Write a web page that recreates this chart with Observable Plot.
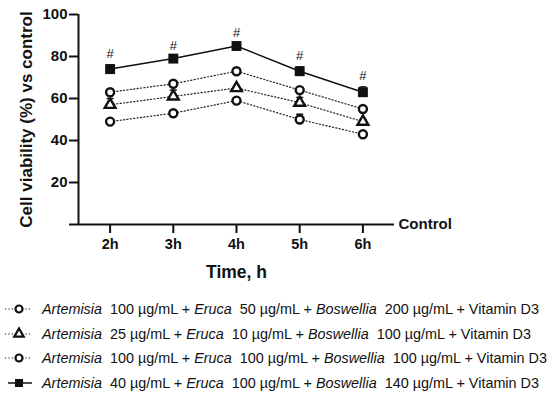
<!DOCTYPE html>
<html>
<head>
<meta charset="utf-8">
<script src="https://cdn.jsdelivr.net/npm/d3@7"></script>
<script src="https://cdn.jsdelivr.net/npm/@observablehq/plot@0.6"></script>
<style>
  body { margin: 0; background: #fff; font-family: "Liberation Sans", Arial, sans-serif; }
  #chart svg { display: block; overflow: visible; }
  #chart g[aria-label="x-axis label"] text { font-size: 17.5px; font-weight: bold; }
  #chart g[aria-label="y-axis label"] text { font-size: 17px; font-weight: bold; }
  #legend { padding-top: 7px; }
  .row { display: flex; align-items: center; height: 24.5px; font-size: 14.4px; color: #111; white-space: nowrap; }
  .row svg { width: 42px; height: 20px; flex: none; }
  .row i { font-style: italic; }
</style>
</head>
<body>
<div id="chart"></div>
<div id="legend"></div>
<script>
const times = [2, 3, 4, 5, 6];
const tickLabels = ["2h", "3h", "4h", "5h", "6h"];
const seriesNames = ["A100_E50_B200", "A25_E10_B100", "A100_E100_B100", "A40_E100_B140"];
const seriesSymbols = ["circle", "triangle", "circle", "square"];
const valsA100E50B200 = [63, 67, 73, 64, 55];
const errA100E50B200 = [1, 1, 1, 1, 1];
const valsA25E10B100 = [57, 61, 65, 58, 49];
const errA25E10B100 = [3, 3, 1, 2.5, 1];
const valsA100E100B100 = [49, 53, 59, 50, 43];
const errA100E100B100 = [1, 1, 1, 2.5, 1];
const valsA40E100B140 = [74, 79, 85, 73, 63];
const errA40E100B140 = [2, 1, 1, 2, 2.5];
const legendHtml = [
  "<i>Artemisia</i>&nbsp; 100 µg/mL + <i>Eruca</i>&nbsp; 50 µg/mL + <i>Boswellia</i>&nbsp; 200 µg/mL + Vitamin D3",
  "<i>Artemisia</i>&nbsp; 25 µg/mL + <i>Eruca</i>&nbsp; 10 µg/mL + <i>Boswellia</i>&nbsp; 100 µg/mL + Vitamin D3",
  "<i>Artemisia</i>&nbsp; 100 µg/mL + <i>Eruca</i>&nbsp; 100 µg/mL + <i>Boswellia</i>&nbsp; 100 µg/mL + Vitamin D3",
  "<i>Artemisia</i>&nbsp; 40 µg/mL + <i>Eruca</i>&nbsp; 100 µg/mL + <i>Boswellia</i>&nbsp; 140 µg/mL + Vitamin D3"
];

const allVals = [valsA100E50B200, valsA25E10B100, valsA100E100B100, valsA40E100B140];
const allErr = [errA100E50B200, errA25E10B100, errA100E100B100, errA40E100B140];
const data = [];
seriesNames.forEach((s, i) => times.forEach((t, j) => data.push({s, sym: seriesSymbols[i], t, v: allVals[i][j], e: allErr[i][j], top: allVals[i][j] + allErr[i][j]})));
const dotted = data.filter(d => d.s !== "A40_E100_B140");
const solid = data.filter(d => d.s === "A40_E100_B140");

const capSymbol = { draw(ctx, size) { const w = 3.5; ctx.moveTo(-w, 0); ctx.lineTo(w, 0); } };

const chart = Plot.plot({
  width: 550,
  height: 290,
  marginLeft: 78,
  marginRight: 156,
  marginTop: 14,
  marginBottom: 66,
  style: { fontFamily: "'Liberation Sans', Arial, sans-serif", color: "#111" },
  x: { domain: [1.5, 6.5] },
  y: { domain: [0, 100] },
  marks: [
    Plot.ruleY([0], { x1: 1.5, x2: 6.5, strokeWidth: 2, stroke: "#111" }),
    Plot.ruleX([1.5], { y1: 0, y2: 100, strokeWidth: 2, stroke: "#111" }),
    Plot.axisY({ ticks: [0, 20, 40, 60, 80, 100], tickFormat: d => d === 0 ? "" : d, tickSize: 9, tickPadding: 2, strokeWidth: 2, fontSize: 15, fontWeight: "bold", label: "Cell viability (%) vs control", labelAnchor: "center", labelOffset: 59, labelArrow: "none" }),
    Plot.axisX({ ticks: times, tickFormat: d => tickLabels[times.indexOf(d)], tickSize: 9, tickPadding: 5, strokeWidth: 2, fontSize: 14.5, fontWeight: "bold", label: "Time, h", labelAnchor: "center", labelOffset: 53, labelArrow: "none" }),
    Plot.text(["Control"], { x: 6.5, y: 0, text: d => d, dx: 4, textAnchor: "start", fontSize: 15, fontWeight: "bold", fill: "#111" }),
    Plot.line(dotted, { x: "t", y: "v", z: "s", stroke: "#222", strokeWidth: 1.2, strokeDasharray: "1.2,2.2" }),
    Plot.line(solid, { x: "t", y: "v", stroke: "#111", strokeWidth: 1.5 }),
    Plot.ruleX(data, { x: "t", y1: "v", y2: "top", stroke: "#111", strokeWidth: 1.5 }),
    Plot.dot(data, { x: "t", y: "top", symbol: capSymbol, stroke: "#111", strokeWidth: 1.5, r: 3 }),
    Plot.dot(data.filter(d => d.sym === "circle"), { x: "t", y: "v", symbol: "circle", r: 4, fill: "white", stroke: "#111", strokeWidth: 2.4 }),
    Plot.dot(data.filter(d => d.sym === "triangle"), { x: "t", y: "v", symbol: "triangle", r: 4, fill: "white", stroke: "#111", strokeWidth: 2.4 }),
    Plot.dot(solid, { x: "t", y: "v", symbol: "square", r: 5.6, fill: "#111", stroke: "none" }),
    Plot.text(solid, { x: "t", y: "top", text: () => "#", dy: -11, fontSize: 13, fill: "#111" })
  ]
});
document.getElementById("chart").appendChild(chart);

// legend
const legend = d3.select("#legend");
seriesNames.forEach((s, i) => {
  const row = legend.append("div").attr("class", "row");
  const svg = row.append("svg").attr("viewBox", "0 0 42 20");
  const sym = seriesSymbols[i];
  svg.append("line").attr("x1", sym === "square" ? 8 : 5).attr("x2", 32).attr("y1", 10).attr("y2", 10)
    .attr("stroke", "#111").attr("stroke-width", sym === "square" ? 1.5 : 1.2)
    .attr("stroke-dasharray", sym === "square" ? null : "1.2,2.2");
  const path = d3.symbol().type(sym === "circle" ? d3.symbolCircle : sym === "triangle" ? d3.symbolTriangle : d3.symbolSquare)
    .size(sym === "square" ? Math.PI * 4.5 * 4.5 : Math.PI * 3.5 * 3.5)();
  svg.append("path").attr("d", path).attr("transform", "translate(19,10)")
    .attr("fill", sym === "square" ? "#111" : "white").attr("stroke", sym === "square" ? "none" : "#111").attr("stroke-width", 2.2);
  row.append("span").html(legendHtml[i]);
});
</script>
</body>
</html>
